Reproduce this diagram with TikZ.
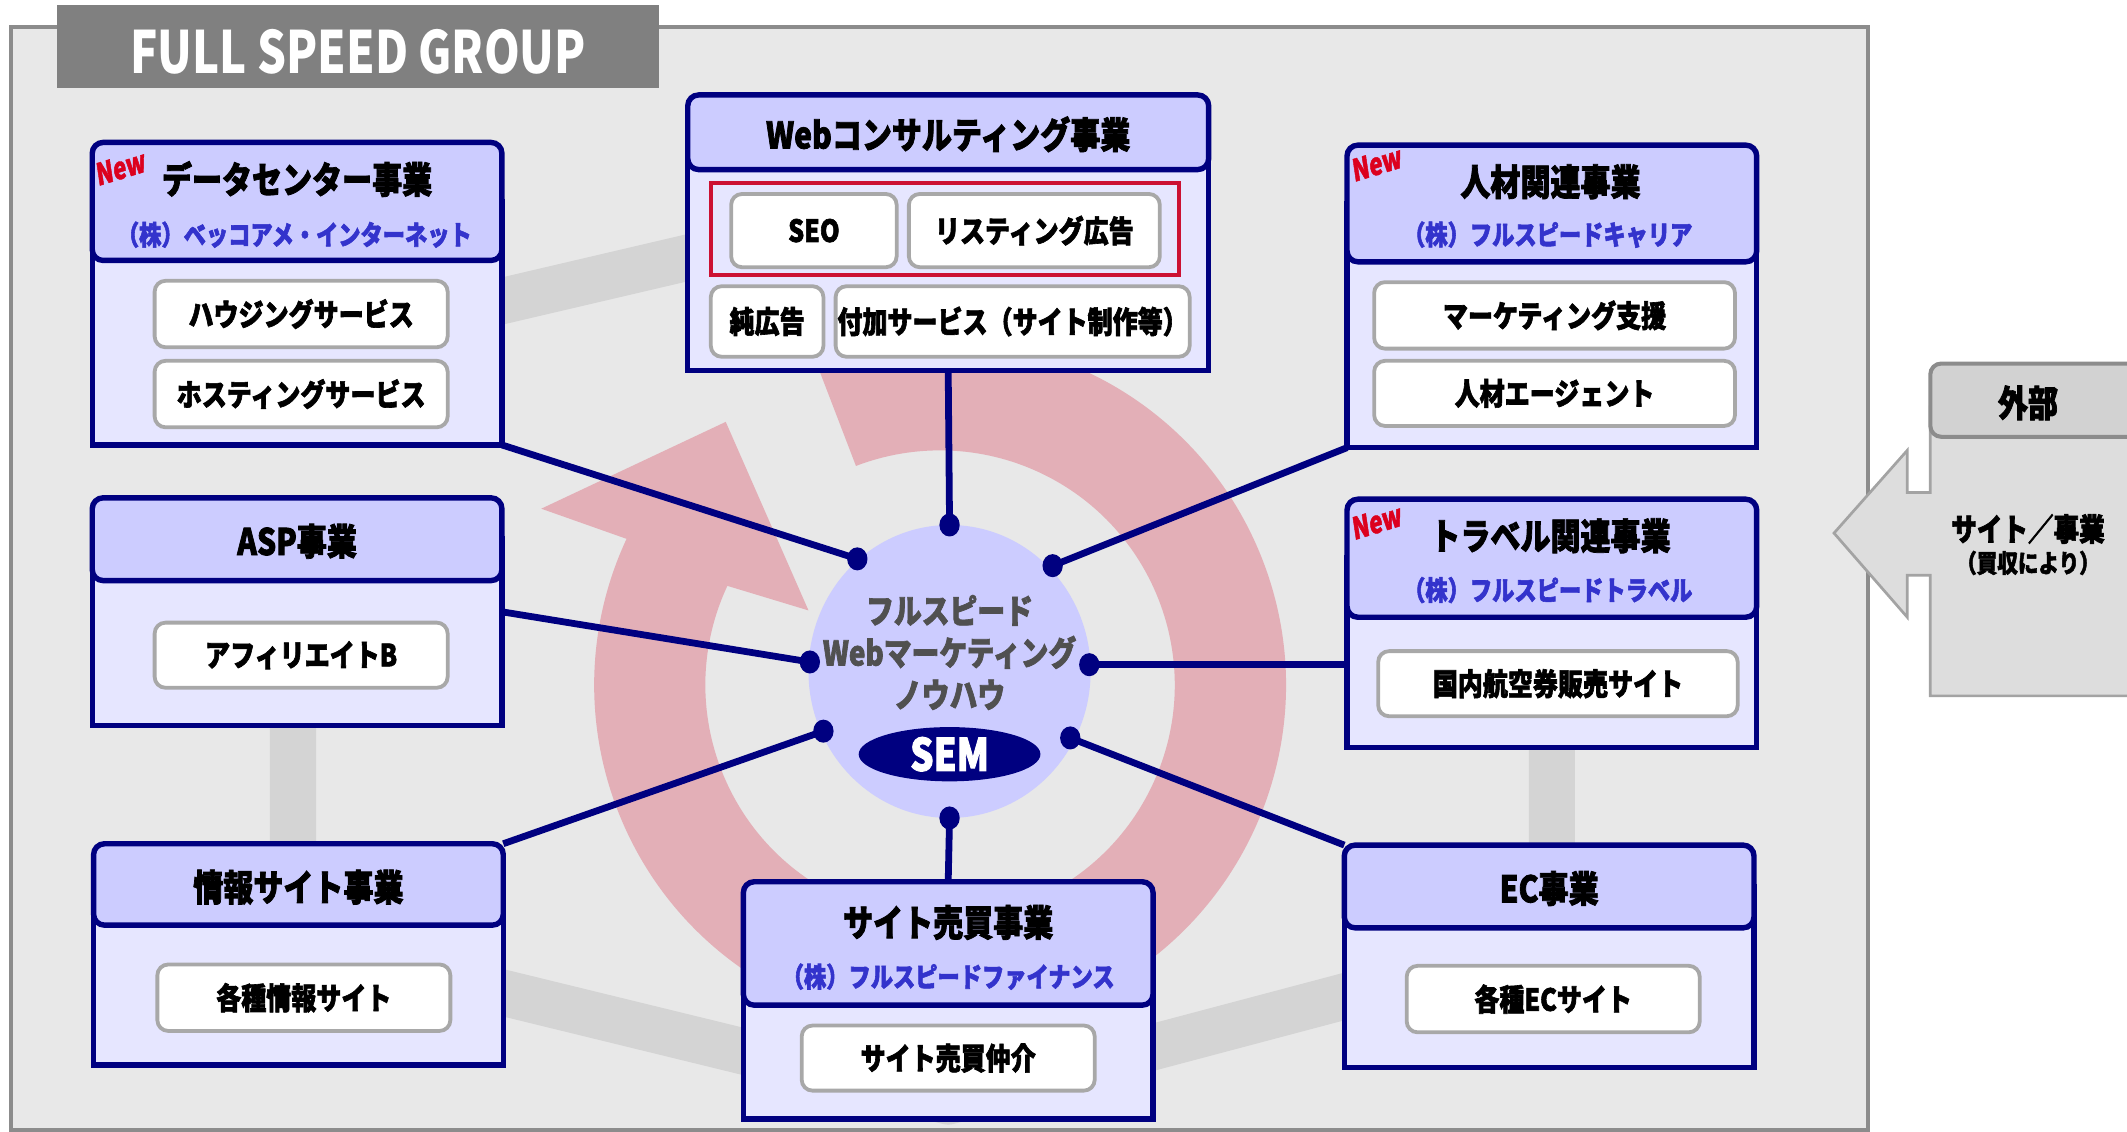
\documentclass[tikz,border=0pt]{standalone}
\usepackage{fontspec}
\usetikzlibrary{shapes.geometric}
\newfontfamily\jp{Noto Sans CJK JP}[FakeStretch=0.82,BoldFeatures={FakeBold=2}]
\newfontfamily\jpt{Noto Sans CJK JP}[FakeStretch=0.78]
\newfontfamily\jpn{Noto Sans CJK JP}[FakeStretch=0.76,FakeSlant=0.15,BoldFeatures={FakeBold=1.5}]
\newcommand\myttlfont{\jp\bfseries\fontsize{27}{30}\selectfont}
\newcommand\mysubfont{\jp\bfseries\fontsize{20}{22}\selectfont}
\newcommand\myitemfont{\jp\bfseries\fontsize{22.5}{25}\selectfont}
\newcommand\mynewmark{\jpn\bfseries\fontsize{22}{23}\selectfont}
\definecolor{navy}{RGB}{0,0,128}
\definecolor{headc}{RGB}{204,204,255}
\definecolor{bodyc}{RGB}{230,230,255}
\definecolor{subblue}{RGB}{51,51,204}
\definecolor{redbox}{RGB}{204,17,51}
\definecolor{itemgray}{RGB}{168,168,168}
\definecolor{framebg}{RGB}{232,232,232}
\definecolor{framegray}{RGB}{140,140,140}
\definecolor{titlegray}{RGB}{128,128,128}
\definecolor{bandc}{RGB}{212,212,212}
\definecolor{pinkc}{RGB}{227,175,183}
\definecolor{extc}{RGB}{221,221,221}
\definecolor{extborder}{RGB}{140,140,140}
\definecolor{ctextc}{RGB}{80,80,80}
\definecolor{newred}{RGB}{220,0,30}
\newcommand\bizbox[6]{%
  \path[fill=bodyc,bizline] (#2,{(#3+#6)/2}) rectangle (#4,#5);
  \path[fill=headc,bizline,rounded corners=8pt] (#2,#3) rectangle (#4,#6);
  \node[inner sep=0pt,outer sep=0pt,minimum width=#4pt-#2pt,minimum height=#5pt-#3pt] (#1) at ({(#2+#4)/2},{(#3+#5)/2}) {};
}
\begin{document}
\begin{tikzpicture}[x=1pt,y=-1pt,
  bizline/.style={draw=navy,line width=4pt},
  item/.style={draw=itemgray,line width=2.8pt,fill=white,rounded corners=8pt,inner sep=0pt,font=\myitemfont},
  ttl/.style={font=\myttlfont,text=black,inner sep=0pt},
  subttl/.style={font=\mysubfont,text=subblue,inner sep=0pt},
  newmark/.style={font=\mynewmark,text=newred,rotate=17,inner sep=0pt},
  conn/.style={draw=navy,line width=5pt},
  dot/.style={ellipse,fill=navy,minimum width=15pt,minimum height=17pt,inner sep=0pt},
]
\useasboundingbox (0,0) rectangle (1568,834);
% frame
\path[fill=framebg,draw=framegray,line width=3pt] (8,20) rectangle (1377,833);
% gray band
\draw[bandc,line width=34pt] (216,258) -- (699,145);
\draw[bandc,line width=34pt,line join=round] (216,450) -- (216,694) -- (699,812) -- (1144,694) -- (1144,459);
% pink circular arrow
\fill[pinkc] (693,505) ++(-111:255) arc[start angle=-111,end angle=205,radius=255]
  -- (399,375) -- (535,311) -- (596,450) -- ([shift={(205:173)}]693,505)
  arc[start angle=205,end angle=-111,radius=173] -- cycle;
% title
\node[fill=titlegray,minimum width=444pt,minimum height=61pt,inner sep=0pt] (title) at (264,34.5) {};
\node[font=\jpt\bfseries\fontsize{43}{45}\selectfont,text=white,inner sep=0pt] (titletext) at (264,38) {FULL SPEED GROUP};
% boxes
\bizbox{dc}{68}{105}{370}{328}{192}
\bizbox{web}{507}{70}{891}{273}{125}
\bizbox{hr}{993}{107}{1295}{330}{193}
\bizbox{asp}{68}{367}{370}{535}{428}
\bizbox{tr}{993}{368}{1295}{551}{455}
\bizbox{info}{69}{622}{371}{785}{682}
\bizbox{site}{548}{650}{850}{825}{741}
\bizbox{ec}{991}{623}{1293}{787}{684}
% titles
\node[ttl] (dcT) at (219,132) {データセンター事業};
\node[subttl] (dcS) at (217,173) {（株）ベッコアメ・インターネット};
\node[newmark] (dcN) at (88,124) {New};
\node[ttl] (webT) at (699,99) {Webコンサルティング事業};
\node[ttl] (hrT) at (1143,134) {人材関連事業};
\node[subttl] (hrS) at (1141,173) {（株）フルスピードキャリア};
\node[newmark] (hrN) at (1014,121) {New};
\node[ttl] (aspT) at (219,399) {ASP事業};
\node[ttl] (trT) at (1143,395) {トラベル関連事業};
\node[subttl] (trS) at (1141,435) {（株）フルスピードトラベル};
\node[newmark] (trN) at (1014,385) {New};
\node[ttl] (infoT) at (220,654) {情報サイト事業};
\node[ttl] (siteT) at (699,680) {サイト売買事業};
\node[subttl] (siteS) at (699,720) {（株）フルスピードファイナンス};
\node[ttl] (ecT) at (1142,655) {EC事業};
% items
\node[item,minimum width=216pt,minimum height=49pt] (dc1) at (222,231.5) {ハウジングサービス};
\node[item,minimum width=216pt,minimum height=49pt] (dc2) at (222,290.5) {ホスティングサービス};
\node[draw=redbox,line width=3pt,minimum width=345pt,minimum height=68pt,inner sep=0pt] (webred) at (696.5,169) {};
\node[item,minimum width=122pt,minimum height=54pt] (seo) at (600,170) {SEO};
\node[item,minimum width=185pt,minimum height=54pt] (lst) at (762.5,170) {リスティング広告};
\node[item,minimum width=83pt,minimum height=52pt] (jun) at (565.5,237) {純広告};
\node[item,minimum width=261pt,minimum height=52pt] (fuka) at (746.5,237) {付加サービス（サイト制作等）};
\node[item,minimum width=266pt,minimum height=49pt] (hr1) at (1146,232.5) {マーケティング支援};
\node[item,minimum width=266pt,minimum height=48pt] (hr2) at (1146,290) {人材エージェント};
\node[item,minimum width=216pt,minimum height=48pt] (asp1) at (222,483) {アフィリエイトB};
\node[item,minimum width=265pt,minimum height=48pt] (tr1) at (1148.5,504) {国内航空券販売サイト};
\node[item,minimum width=216pt,minimum height=49pt] (info1) at (224,735.5) {各種情報サイト};
\node[item,minimum width=216pt,minimum height=48pt] (site1) at (699,780) {サイト売買仲介};
\node[item,minimum width=216pt,minimum height=49pt] (ec1) at (1145,736.5) {各種ECサイト};
% external
\path[fill=extc,draw=extborder!80,line width=2pt] (1423,300) -- (1423,363) -- (1406,363) -- (1406,332) -- (1352,393) -- (1406,455) -- (1406,424) -- (1423,424) -- (1423,513) -- (1590,513) -- (1590,300) -- cycle;
\path[fill=extc!95!black,draw=extborder,line width=3pt,rounded corners=8pt] (1423,268) rectangle (1600,322);
\node[ttl] (extT) at (1495,297) {外部};
\node[font=\jp\bfseries\fontsize{23}{25}\selectfont,inner sep=0pt] (extA) at (1495,390) {サイト／事業};
\node[font=\jp\bfseries\fontsize{18.5}{20}\selectfont,inner sep=0pt] (extB) at (1495,415) {（買収により）};
% core
\node[ellipse,fill=headc,minimum width=208pt,minimum height=216pt,inner sep=0pt] (core) at (700,495) {};
\node[font=\jp\bfseries\fontsize{25}{31}\selectfont,text=ctextc,align=center,inner sep=0pt] (ctext) at (700,481) {フルスピード\\Webマーケティング\\ノウハウ};
\node[ellipse,fill=navy,minimum width=134pt,minimum height=40pt,inner sep=0pt,text=white,font=\jp\bfseries\fontsize{33}{35}\selectfont] (sem) at (700,556) {SEM};
% dots
\node[dot] (dW) at (700,387) {};
\node[dot] (dDC) at (632,412) {};
\node[dot] (dHR) at (776,417) {};
\node[dot] (dASP) at (597,488) {};
\node[dot] (dTR) at (803,490) {};
\node[dot] (dINFO) at (607,539) {};
\node[dot] (dEC) at (789,544) {};
\node[dot] (dSITE) at (700,603) {};
% connectors
\draw[conn] (web.south) -- (dW.center);
\draw[conn] (dc.south east) -- (dDC.center);
\draw[conn] (hr.south west) -- (dHR.center);
\draw[conn] (asp.east) -- (dASP.center);
\draw[conn] ([yshift=-30.5pt]tr.west) -- (dTR.center);
\draw[conn] (info.north east) -- (dINFO.center);
\draw[conn] (ec.north west) -- (dEC.center);
\draw[conn] (site.north) -- (dSITE.center);
\end{tikzpicture}
\end{document}
